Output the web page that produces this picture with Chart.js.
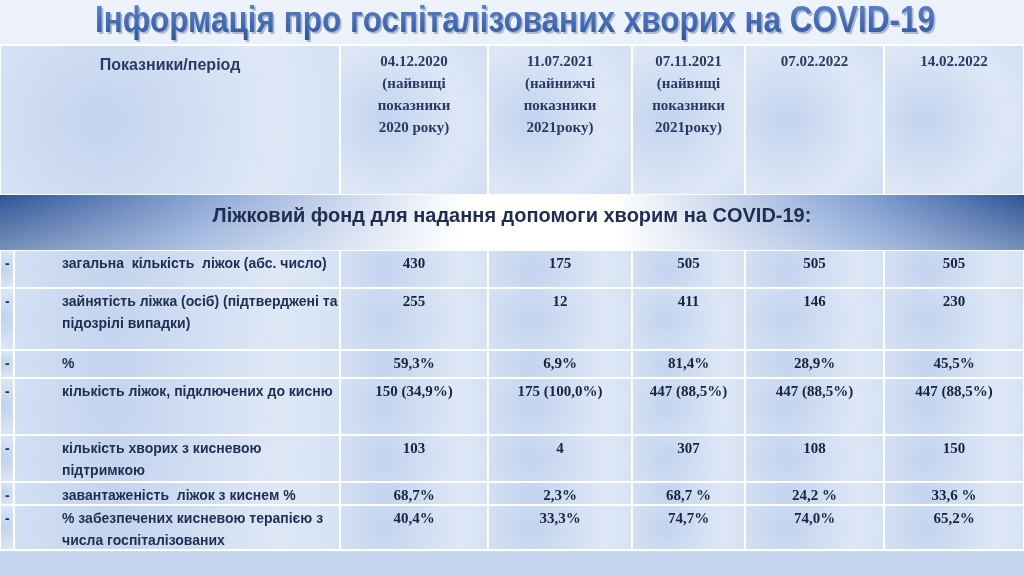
<!DOCTYPE html>
<html><head><meta charset="utf-8">
<script src="https://cdn.jsdelivr.net/npm/chart.js@4"></script>
<style>html,body{margin:0;padding:0;background:#dfe8f6}canvas{display:block}</style>
</head><body>
<canvas id="c" width="1024" height="576"></canvas>
<script>
const title = "Інформація про госпіталізованих хворих на COVID-19";
const headerLabel = "Показники/період";
const periods = [
  ["04.12.2020","(найвищі","показники","2020 року)"],
  ["11.07.2021","(найнижчі","показники","2021року)"],
  ["07.11.2021","(найвищі","показники","2021року)"],
  ["07.02.2022"],
  ["14.02.2022"]
];
const sectionTitle = "Ліжковий фонд для надання допомоги хворим на COVID-19:";
const rowLabels = [
  ["загальна  кількість  ліжок (абс. число)"],
  ["зайнятість ліжка (осіб) (підтверджені та","підозрілі випадки)"],
  ["%"],
  ["кількість ліжок, підключених до кисню"],
  ["кількість хворих з кисневою","підтримкою"],
  ["завантаженість  ліжок з киснем %"],
  ["% забезпечених кисневою терапією з","числа госпіталізованих"]
];
const col2020 = ["430","255","59,3%","150 (34,9%)","103","68,7%","40,4%"];
const col2021low = ["175","12","6,9%","175 (100,0%)","4","2,3%","33,3%"];
const col2021high = ["505","411","81,4%","447 (88,5%)","307","68,7 %","74,7%"];
const col0702 = ["505","146","28,9%","447 (88,5%)","108","24,2 %","74,0%"];
const col1402 = ["505","230","45,5%","447 (88,5%)","150","33,6 %","65,2%"];
const values = [col2020,col2021low,col2021high,col0702,col1402];

// layout (pixel-space scale units)
const colEdges = [0,340,488,632,745,884,1024];
const headTop = 45, headBot = 195, secBot = 250;
const rowEdges = [250,288,350,378,435,482,505,550];

const tablePlugin = {
  id:'table',
  beforeDraw(chart){
    const {ctx, scales:{x,y}} = chart;
    const X = v=>x.getPixelForValue(v), Y = v=>y.getPixelForValue(v);
    ctx.save();
    let g = ctx.createLinearGradient(0,0,0,576);
    g.addColorStop(0,'#eef3fb'); g.addColorStop(1,'#c9d8ef');
    ctx.fillStyle=g; ctx.fillRect(0,0,1024,576);
    function cell(x0,x1,y0,y1){
      const a=X(x0),b=X(x1),c=Y(y0),d=Y(y1);
      const cy=(c+d)/2;
      const r=Math.max(b-a,d-c);
      const rg=ctx.createRadialGradient(a+(b-a)*0.3,cy,2,a+(b-a)*0.3,cy,r);
      rg.addColorStop(0,'#c4d4ef'); rg.addColorStop(0.5,'#dde7f6'); rg.addColorStop(1,'#cddcf1');
      ctx.fillStyle=rg; ctx.fillRect(a,c,b-a,d-c);
      ctx.strokeStyle='#ffffff'; ctx.lineWidth=2; ctx.strokeRect(a,c,b-a,d-c);
    }
    for(let i=0;i<6;i++) cell(colEdges[i],colEdges[i+1],headTop,headBot);
    for(let r=0;r<7;r++){
      cell(0,14,rowEdges[r],rowEdges[r+1]);
      cell(14,colEdges[1],rowEdges[r],rowEdges[r+1]);
      for(let i=1;i<6;i++) cell(colEdges[i],colEdges[i+1],rowEdges[r],rowEdges[r+1]);
    }
    let sg = ctx.createLinearGradient(X(0),0,X(1024),0);
    sg.addColorStop(0,'#2e5496'); sg.addColorStop(0.2,'#8aa6d6'); sg.addColorStop(0.45,'#ffffff');
    sg.addColorStop(0.6,'#ffffff'); sg.addColorStop(0.85,'#7e9dd2'); sg.addColorStop(1,'#2e5496');
    ctx.fillStyle=sg; ctx.fillRect(X(0),Y(headBot),X(1024)-X(0),Y(secBot)-Y(headBot));
    let sv = ctx.createLinearGradient(0,Y(headBot),0,Y(secBot));
    sv.addColorStop(0,'rgba(255,255,255,0)'); sv.addColorStop(1,'rgba(255,255,255,0.35)');
    ctx.fillStyle=sv; ctx.fillRect(X(0),Y(headBot),X(1024)-X(0),Y(secBot)-Y(headBot));
    ctx.fillStyle='#c5d5ee'; ctx.fillRect(0,Y(552),1024,24);

    ctx.font='bold 36px "Liberation Sans Narrow","Liberation Sans",sans-serif';
    ctx.textBaseline='middle'; ctx.textAlign='left';
    const tw=ctx.measureText(title).width, target=840;
    ctx.save(); ctx.translate(X(95),Y(22)); ctx.scale(target/tw,1);
    ctx.fillStyle='rgba(40,60,100,0.3)'; ctx.fillText(title,2,2);
    const tg=ctx.createLinearGradient(0,-18,0,18);
    tg.addColorStop(0,'#5b82c8'); tg.addColorStop(1,'#2f55a0');
    ctx.fillStyle=tg; ctx.fillText(title,0,0); ctx.restore();

    ctx.fillStyle='#2a3a60';
    ctx.font='bold 16px "Liberation Sans",Arial,sans-serif'; ctx.textAlign='center';
    ctx.fillText(headerLabel,X(170),Y(66));
    ctx.font='bold 15px "Liberation Serif","Times New Roman",serif';
    periods.forEach((p,i)=>{
      const cx=(X(colEdges[i+1])+X(colEdges[i+2]))/2;
      p.forEach((s,k)=>ctx.fillText(s,cx,Y(62+k*22)));
    });
    ctx.font='bold 20px "Liberation Sans",Arial,sans-serif'; ctx.fillStyle='#1f2d50';
    ctx.fillText(sectionTitle,X(512),Y(216));
    for(let r=0;r<7;r++){
      const yt=rowEdges[r]+14;
      ctx.textAlign='left'; ctx.fillStyle='#1f2d50';
      ctx.font='bold 14px "Liberation Sans",Arial,sans-serif';
      ctx.fillText('-',X(5),Y(yt));
      rowLabels[r].forEach((s,k)=>ctx.fillText(s,X(62),Y(yt+k*22)));
      ctx.textAlign='center'; ctx.fillStyle='#18233f';
      ctx.font='bold 15px "Liberation Serif","Times New Roman",serif';
      values.forEach((col,i)=>{
        const cx=(X(colEdges[i+1])+X(colEdges[i+2]))/2;
        ctx.fillText(col[r],cx,Y(yt));
      });
    }
    ctx.restore();
  }
};

new Chart(document.getElementById('c'),{
  type:'scatter',
  data:{datasets:[{data:[]}]},
  options:{
    responsive:false, animation:false, devicePixelRatio:1,
    layout:{padding:0},
    plugins:{legend:{display:false},tooltip:{enabled:false}},
    scales:{
      x:{type:'linear',min:0,max:1024,display:false},
      y:{type:'linear',min:0,max:576,reverse:true,display:false}
    }
  },
  plugins:[tablePlugin]
});
</script>
</body></html>
